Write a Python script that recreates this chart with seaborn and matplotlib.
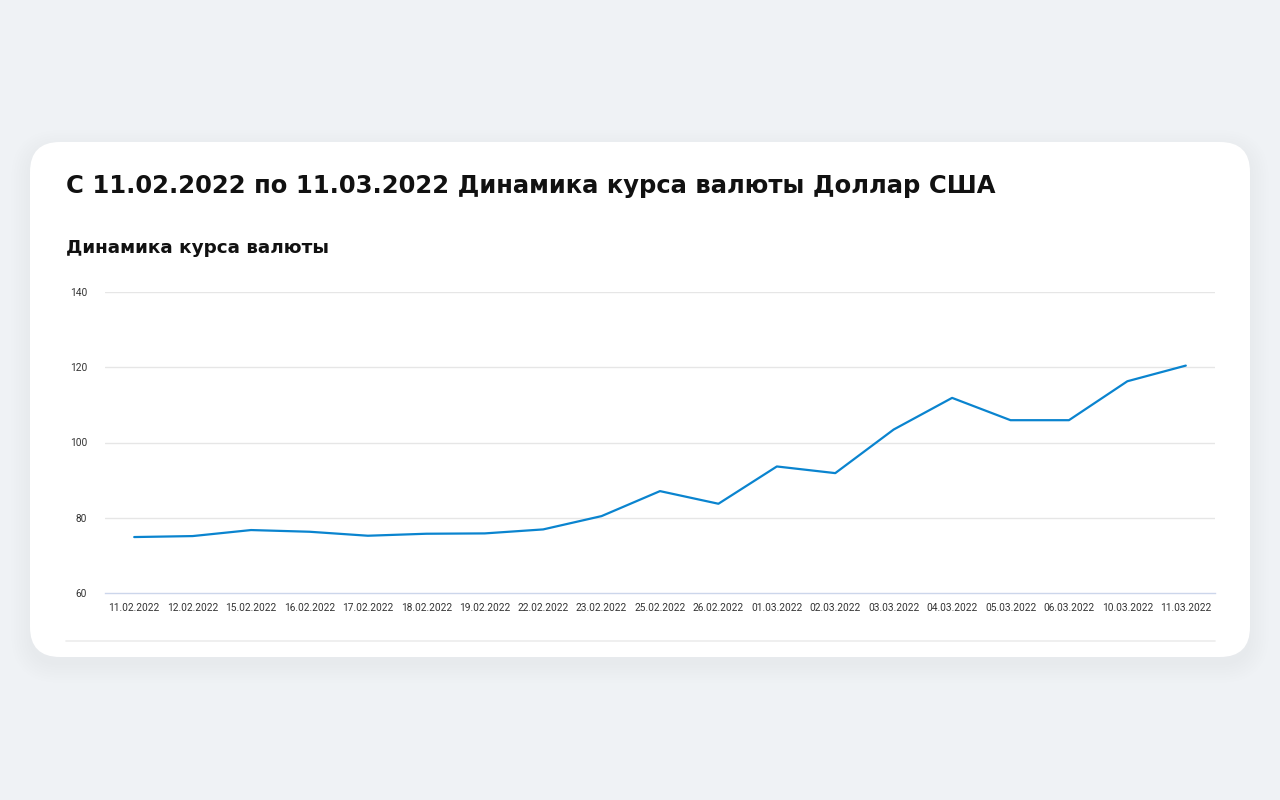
import matplotlib
matplotlib.use("Agg")
import matplotlib.pyplot as plt
from matplotlib.patches import FancyBboxPatch
import pandas as pd
import seaborn as sns

dates = ["11.02.2022", "12.02.2022", "15.02.2022", "16.02.2022", "17.02.2022",
         "18.02.2022", "19.02.2022", "22.02.2022", "23.02.2022", "25.02.2022",
         "26.02.2022", "01.03.2022", "02.03.2022", "03.03.2022", "04.03.2022",
         "05.03.2022", "06.03.2022", "10.03.2022", "11.03.2022"]
rates = [74.87, 75.13, 76.73, 76.28, 75.22, 75.75, 75.84, 76.90, 80.44, 87.08,
         83.72, 93.63, 91.86, 103.45, 111.86, 105.93, 105.93, 116.28, 120.44]
y_ticks = [60, 80, 100, 120, 140]

TITLE = "С 11.02.2022 по 11.03.2022 Динамика курса валюты Доллар США"
SUBTITLE = "Динамика курса валюты"
LINE_COLOR = "#0a84cf"

sns.set_theme(style="white")
plt.rcParams["font.family"] = ["Roboto", "DejaVu Sans"]

W, H = 1280, 800
fig = plt.figure(figsize=(W / 100, H / 100), dpi=100)
fig.patch.set_facecolor("#eff2f5")

# background layer in pixel coordinates: card, shadow, footer line
bg = fig.add_axes([0, 0, 1, 1])
bg.set_xlim(0, W)
bg.set_ylim(H, 0)
bg.axis("off")
for i in range(8):
    grow = 1 + i * 2.5
    bg.add_patch(FancyBboxPatch(
        (30 - grow, 142 - grow + 7), 1220 + 2 * grow, 515 + 2 * grow,
        boxstyle=f"round,pad=0,rounding_size={30 + grow}",
        facecolor="#a9b3bf", edgecolor="none", alpha=0.012, zorder=1))
bg.add_patch(FancyBboxPatch(
    (30, 142), 1220, 515, boxstyle="round,pad=0,rounding_size=30",
    facecolor="white", edgecolor="none", zorder=2))
bg.plot([66, 1215], [641, 641], color="#ececec", lw=1.2, zorder=3)

head_font = ["DejaVu Sans"]
bg.text(66, 186, TITLE, fontsize=17.5, fontweight="bold", color="#111111",
        va="center", ha="left", family=head_font, zorder=4)
bg.text(66, 248, SUBTITLE, fontsize=13.2, fontweight="bold", color="#111111",
        va="center", ha="left", family=head_font, zorder=4)

# chart
ax = fig.add_axes([105 / W, 1 - 593 / H, 1110 / W, 301 / H])
ax.set_facecolor("none")
df = pd.DataFrame({"date": dates, "rate": rates})
sns.lineplot(data=df, x="date", y="rate", sort=False, color=LINE_COLOR,
             linewidth=1.6, ax=ax)
ax.set_xlim(-0.5, len(dates) - 0.5)
ax.set_ylim(y_ticks[0], y_ticks[-1])
ax.set_yticks(y_ticks)
ax.set_yticklabels([str(t) for t in y_ticks])
ax.set_xlabel("")
ax.set_ylabel("")
for t in y_ticks[1:]:
    ax.axhline(t, color="#e6e6e6", lw=1, zorder=0)
for side in ["top", "right", "left"]:
    ax.spines[side].set_visible(False)
ax.spines["bottom"].set_color("#ccd6eb")
ax.spines["bottom"].set_linewidth(1)
ax.tick_params(axis="both", length=0, labelsize=7.3, colors="#333333")
ax.tick_params(axis="y", pad=13)
ax.tick_params(axis="x", pad=7)

fig.savefig("out.png", dpi=100, facecolor=fig.get_facecolor())
